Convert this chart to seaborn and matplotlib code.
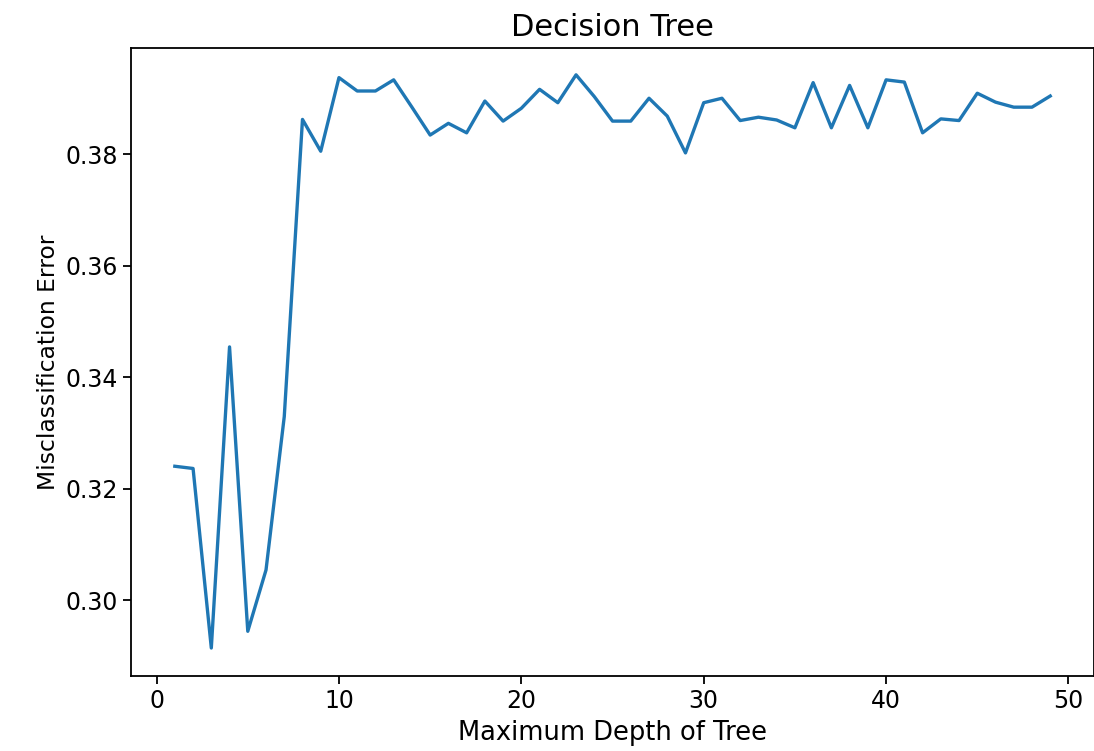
import numpy as np
import pandas as pd
import matplotlib
matplotlib.use("Agg")
import matplotlib.pyplot as plt
import seaborn as sns

# max depth values and the error
depth = list(range(1, 50))
error = [0.3240, 0.3236, 0.2914, 0.3454, 0.2944, 0.3054, 0.3329, 0.3862, 0.3805, 0.3937,
         0.3913, 0.3913, 0.3933, 0.3884, 0.3834, 0.3855, 0.3838, 0.3895, 0.3859, 0.3882,
         0.3916, 0.3892, 0.3942, 0.3903, 0.3859, 0.3859, 0.3900, 0.3868, 0.3802, 0.3892,
         0.3900, 0.3860, 0.3866, 0.3861, 0.3847, 0.3928, 0.3847, 0.3923, 0.3847, 0.3933,
         0.3929, 0.3838, 0.3863, 0.3860, 0.3909, 0.3893, 0.3884, 0.3884, 0.3904]

df = pd.DataFrame({"depth": depth, "error": error})

plt.rcParams["font.family"] = "DejaVu Sans"
fig = plt.figure(figsize=(10.94, 7.51), dpi=100)
ax = fig.add_axes([0.1198, 0.1, 0.8802, 0.836])

sns.lineplot(x="depth", y="error", data=df, color="#1f77b4", linewidth=2.4, ax=ax)

ax.set_title("Decision Tree", fontsize=22, pad=9)
ax.set_xlabel("Maximum Depth of Tree", fontsize=18.5, labelpad=5)
ax.set_ylabel("Misclassification Error", fontsize=16.8)
ax.set_xticks([0, 10, 20, 30, 40, 50])
ax.set_yticks([0.30, 0.32, 0.34, 0.36, 0.38])
ax.set_xlim(-1.4, 51.4)
ax.set_ylim(0.2864, 0.399)
ax.tick_params(labelsize=17, length=6, width=1.3)
for s in ax.spines.values():
    s.set_linewidth(1.3)

fig.savefig("out.png", dpi=100)
